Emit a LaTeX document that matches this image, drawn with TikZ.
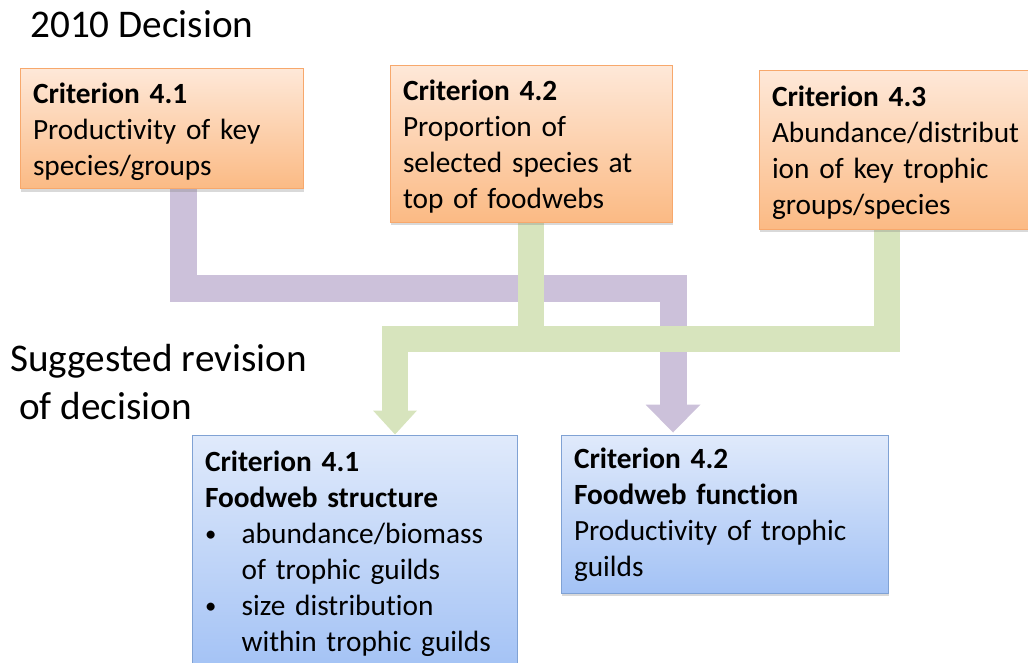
\documentclass[tikz,border=0pt]{standalone}
\usepackage{fontspec}
\setmainfont{Carlito}[Ligatures=NoCommon]
\usetikzlibrary{arrows.meta,calc,shadows,backgrounds}
\definecolor{orangetop}{RGB}{254,232,216}
\definecolor{orangebot}{RGB}{251,186,132}
\definecolor{orangeline}{RGB}{247,168,108}
\definecolor{bluetop}{RGB}{224,234,251}
\definecolor{bluebot}{RGB}{163,194,245}
\definecolor{blueline}{RGB}{128,162,212}
\definecolor{lilac}{RGB}{204,193,218}
\definecolor{sage}{RGB}{215,228,189}
\newcommand{\guildbullet}{\makebox[27.5pt][l]{\raisebox{1pt}{\fontsize{17pt}{17pt}\selectfont\textbullet}}}
\tikzset{
  crit/.style={line width=0.75pt, align=left, inner xsep=9.75pt, inner ysep=0pt,
    font=\fontsize{22pt}{27pt}\selectfont,
    drop shadow={shadow xshift=0.75pt, shadow yshift=-2.25pt, opacity=0.3}},
  oldcrit/.style={crit, draw=orangeline, top color=orangetop, bottom color=orangebot,
    execute at begin node={\rule{0pt}{20pt}}},
  newcrit/.style={crit, draw=blueline, top color=bluetop, bottom color=bluebot,
    execute at begin node={\rule{0pt}{16pt}}},
  heading/.style={font=\fontsize{29.4pt}{36pt}\selectfont, inner sep=0pt, align=left},
  band/.style={line width=#1, line join=miter},
}
\begin{document}
\begin{tikzpicture}[x=0.75pt,y=-0.75pt]
\useasboundingbox (0,0) rectangle (1028,663);
\node[heading, anchor=base west] (decision) at (30,38) {2010 Decision};
\node[heading, anchor=base west] (revision) at (10,419) {Suggested revision\\\hspace*{.226em}of decision};
\node[oldcrit, text width=192.75pt, minimum height=90pt] (old1) at (161.5,129)
  {\textbf{Criterion 4.1}\\Productivity of key\\species/groups};
\node[oldcrit, text width=192pt, minimum height=117pt] (old2) at (531,144)
  {\textbf{Criterion 4.2}\\Proportion of\\selected species at\\top of foodwebs};
\node[oldcrit, text width=192.75pt, minimum height=118.5pt] (old3) at (900.5,150)
  {\textbf{Criterion 4.3}\\Abundance/distribut\\ion of key trophic\\groups/species};
\node[newcrit, text width=224.25pt, minimum height=177pt] (new1) at (354.5,553)
  {\textbf{Criterion 4.1}\\\textbf{Foodweb structure}\\
   \guildbullet abundance/biomass\\\hspace*{27.5pt}of trophic guilds\\
   \guildbullet size distribution\\\hspace*{27.5pt}within trophic guilds};
\node[newcrit, text width=225.75pt, minimum height=118.5pt] (new2) at (724.5,514)
  {\textbf{Criterion 4.2}\\\textbf{Foodweb function}\\Productivity of trophic\\guilds};
\coordinate (pbend) at (673,288.5);
\coordinate (gjoin) at (395,339);
\begin{scope}[on background layer]
\draw[band=20.25pt, lilac, -{Triangle[length=21pt,width=41.25pt,line width=0pt]}]
  ($(old1.south)+(22,0)$) |- (pbend) -- ($(new2.north)+(-51.5,-2)$);
\draw[band=19.5pt, sage, -{Triangle[length=18pt,width=33pt,line width=0pt]}]
  (old2.south) |- (gjoin) -- ($(new1.north)+(40.5,0)$);
\draw[band=19.5pt, sage] ($(old3.south)+(-13.5,0)$) |- (gjoin);
\end{scope}
\end{tikzpicture}
\end{document}
